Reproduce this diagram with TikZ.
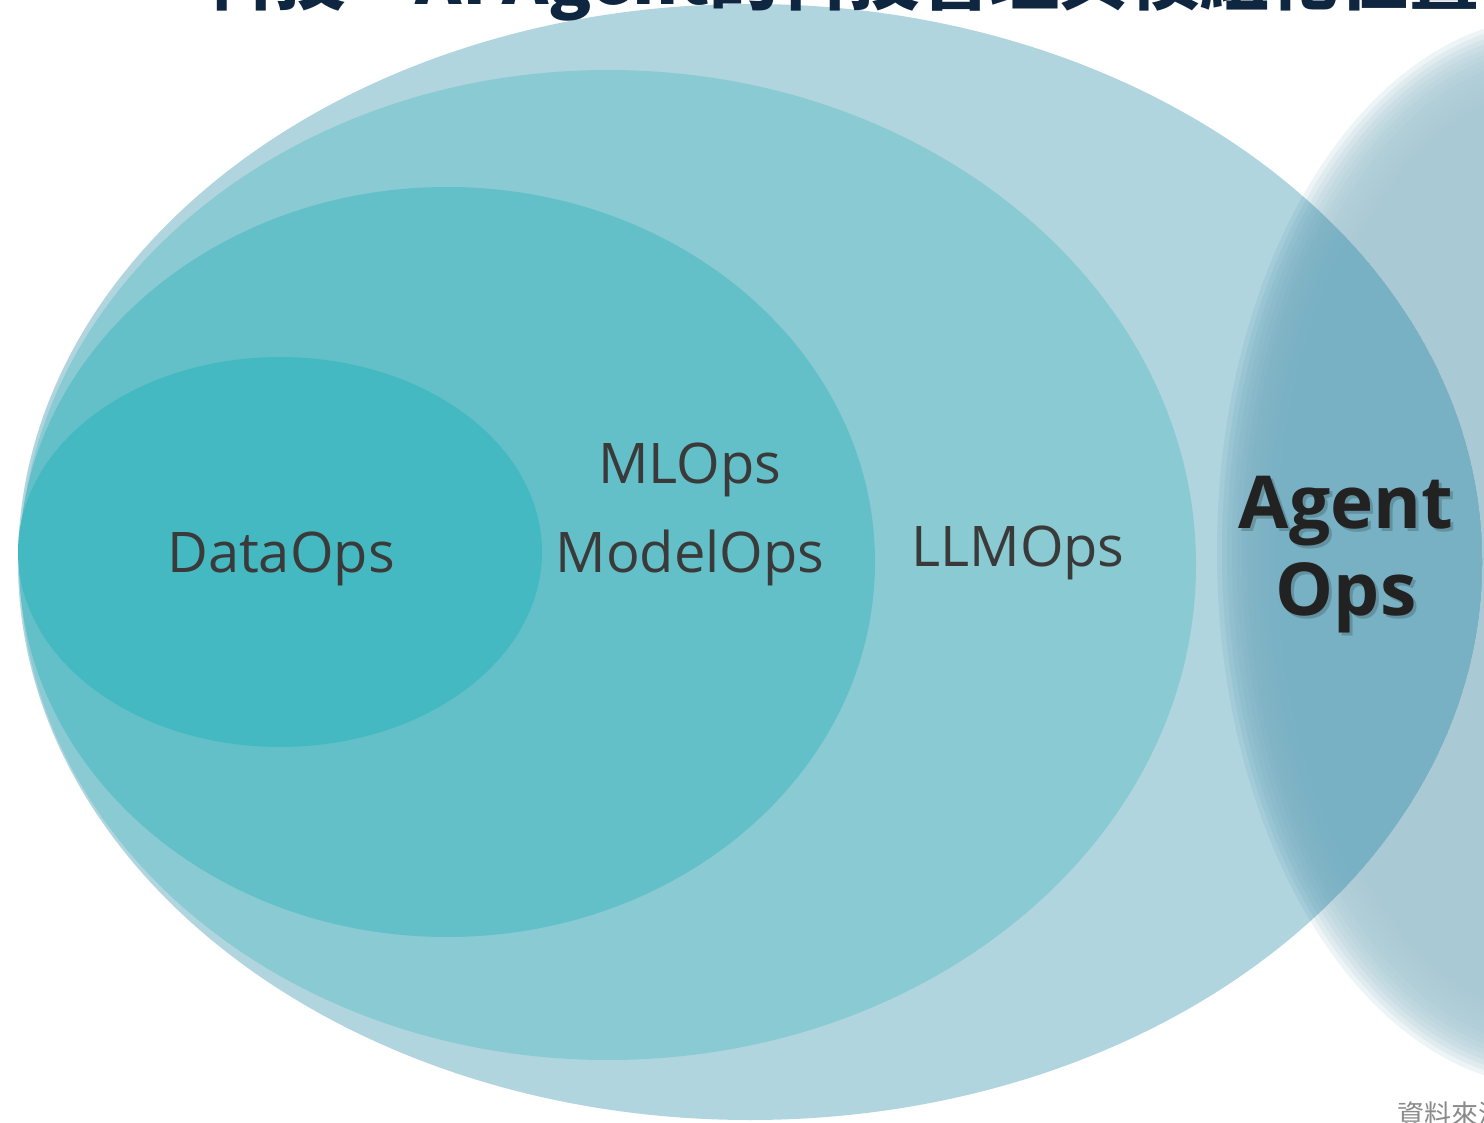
\documentclass[tikz,border=0pt]{standalone}
\usepackage{fontspec}
\setmainfont{Open Sans}
\newfontfamily\cjk{Noto Sans CJK TC}
\definecolor{outerc}{HTML}{B1D5DF}
\definecolor{secc}{HTML}{89CAD3}
\definecolor{thirdc}{HTML}{63C0C8}
\definecolor{innerc}{HTML}{45B9C2}
\definecolor{blurout}{HTML}{A9CAD5}
\definecolor{blurin}{HTML}{78B1C4}
\definecolor{labelc}{HTML}{3A3A3A}
\definecolor{agentc}{HTML}{222222}
\definecolor{titlec}{HTML}{0E2640}
\definecolor{notec}{HTML}{8A8A8A}
\tikzset{
  lbl/.style={font=\fontsize{28pt}{32pt}\selectfont, text=labelc, inner sep=0pt, anchor=base},
  agentlbl/.style={font=\fontsize{36.5pt}{40pt}\selectfont\bfseries, text=agentc, inner sep=0pt, anchor=base},
  shadowlbl/.style={font=\fontsize{36.5pt}{40pt}\selectfont\bfseries, text=black, text opacity=0.18, inner sep=0pt, anchor=base},
}
\begin{document}
\begin{tikzpicture}[x=0.5pt,y=-0.5pt]
\path[use as bounding box] (0,0) rectangle (1484,1123);
\clip (0,0) rectangle (1484,1123);
\fill[white] (0,0) rectangle (1484,1123);
% outer ellipse
\fill[outerc] (750,562) ellipse [x radius=732, y radius=558];
% blurred right ellipse (outside part)
\foreach \i in {0,...,13}{
  \fill[blurout, fill opacity=0.2] (1555,552) ellipse [x radius={338-5*\i}, y radius={535-5*\i}];
}
\fill[blurout] (1555,552) ellipse [x radius=268, y radius=465];
% overlap part
\begin{scope}
  \clip (750,562) ellipse [x radius=732, y radius=558];
  \foreach \i in {0,...,13}{
    \fill[blurin, fill opacity=0.2] (1555,552) ellipse [x radius={338-5*\i}, y radius={535-5*\i}];
  }
  \fill[blurin] (1555,552) ellipse [x radius=268, y radius=465];
\end{scope}
% nested ellipses
\fill[secc] (608,565) ellipse [x radius=588, y radius=495];
\fill[thirdc] (447,562) ellipse [x radius=428, y radius=375];
\fill[innerc] (280,552) ellipse [x radius=262, y radius=195];
% labels
\node[lbl] (data) at (281,572) {DataOps};
\node[lbl] (ml) at (690,483) {MLOps};
\node[lbl] (model) at (690,572) {ModelOps};
\node[lbl] (llm) at (1018,566) {LLMOps};
\node[shadowlbl] (agentsh) at (1349,531) {Agent};
\node[shadowlbl] (opssh) at (1349,618) {Ops};
\node[agentlbl] (agent) at (1346,528) {Agent};
\node[agentlbl] (ops) at (1346,615) {Ops};
% title (cut off at top)
\node[font=\cjk\bfseries\fontsize{35pt}{40pt}\selectfont, text=titlec, inner sep=0pt, anchor=base west] (title) at (205,5) {科技 – AI Agent的科技管理與模組化位置};
% source note (cut off)
\node[font=\cjk\fontsize{13.5pt}{15pt}\selectfont, text=notec, inner sep=0pt, anchor=base west] (note) at (1397,1124) {資料來源};
\end{tikzpicture}
\end{document}
